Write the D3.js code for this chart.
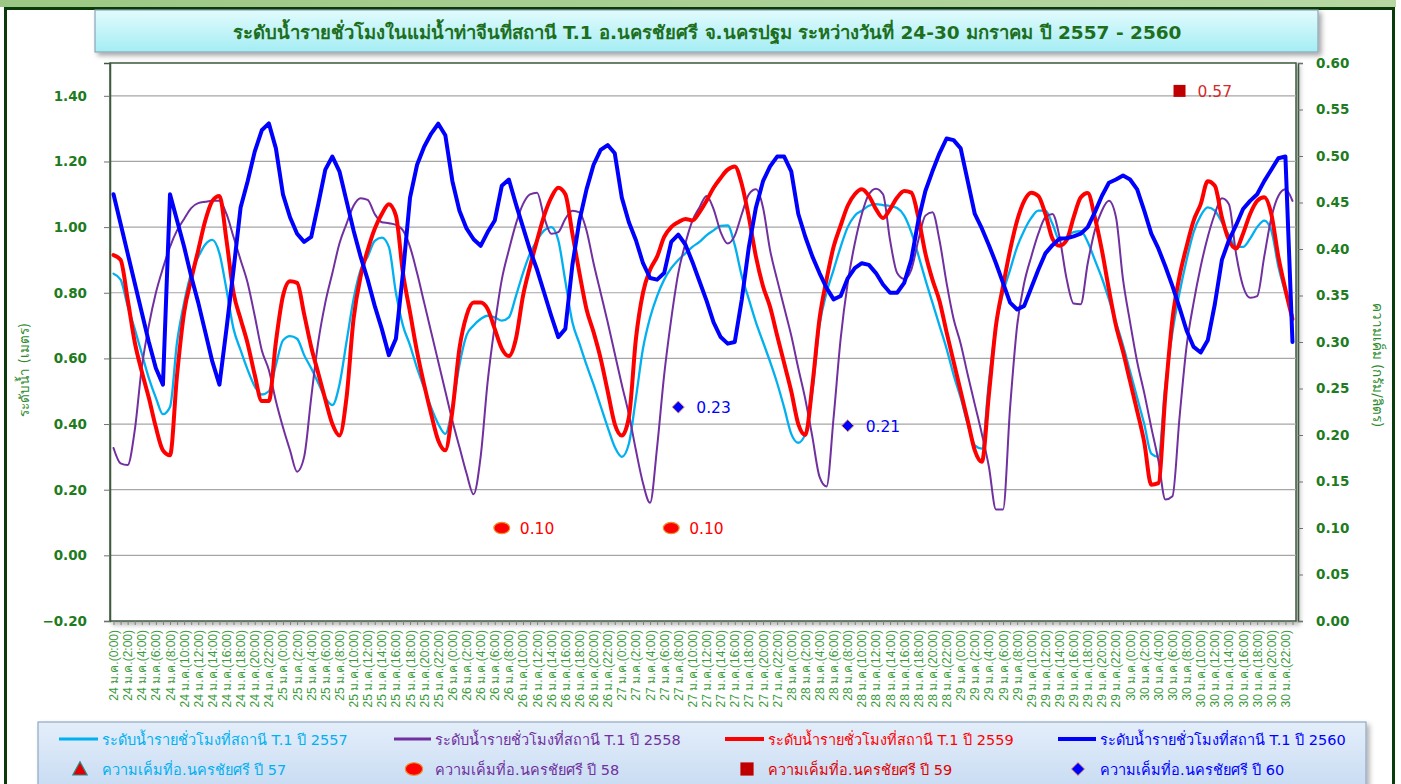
<!DOCTYPE html>
<html><head><meta charset="utf-8">
<script src="https://cdn.jsdelivr.net/npm/d3@7"></script>
<style>
html,body{margin:0;padding:0;background:#fff;overflow:hidden}
svg{display:block;font-family:Tahoma,"DejaVu Sans","Noto Sans",sans-serif}
</style></head>
<body>
<svg id="chart" width="1401" height="784"></svg>
<script>
// ---------- DATA ----------
const days = ["24","25","26","27","28","29","30"];
const hoursOfDay = d3.range(24);
const categories = [];
days.forEach(d => hoursOfDay.forEach(h => categories.push(`${d} ม.ค.(${h}:00)`)));
const labelEvery = 2; // x tick label shown every 2 hours

const titleText = "ระดับน้ำรายชั่วโมงในแม่น้ำท่าจีนที่สถานี T.1 อ.นครชัยศรี จ.นครปฐม ระหว่างวันที่ 24-30 มกราคม ปี 2557 - 2560";
const leftTitle = "ระดับน้ำ (เมตร)";
const rightTitle = "ความเค็ม (กรัม/ลิตร)";
const leftTicks = [-0.2,0,0.2,0.4,0.6,0.8,1.0,1.2,1.4];
const rightTicks = [0,0.05,0.1,0.15,0.2,0.25,0.3,0.35,0.4,0.45,0.5,0.55,0.6];

const level2557 = [
0.858,0.84,0.76,0.69,0.615,0.54,0.48,0.43,0.452,0.65,0.77,0.86,0.909,0.947,0.961,0.92,0.81,0.69,0.625,0.565,0.515,0.49,0.50,0.58,
0.655,0.668,0.66,0.61,0.57,0.525,0.48,0.458,0.52,0.65,0.78,0.87,0.91,0.958,0.968,0.94,0.80,0.70,0.64,0.57,0.51,0.45,0.40,0.37,
0.45,0.58,0.67,0.70,0.72,0.73,0.725,0.715,0.725,0.79,0.86,0.92,0.96,0.99,1.00,0.96,0.835,0.71,0.645,0.58,0.52,0.455,0.39,0.33,
0.30,0.34,0.48,0.63,0.724,0.79,0.84,0.875,0.90,0.92,0.94,0.955,0.975,0.99,1.004,1.005,0.945,0.85,0.78,0.71,0.65,0.59,0.525,0.45,
0.37,0.343,0.37,0.50,0.70,0.80,0.87,0.94,1.00,1.035,1.05,1.065,1.07,1.067,1.064,1.058,1.035,0.985,0.915,0.84,0.77,0.70,0.63,0.55,
0.48,0.40,0.335,0.325,0.53,0.70,0.80,0.87,0.94,0.99,1.028,1.05,1.05,1.01,0.96,0.97,0.985,0.988,0.955,0.90,0.845,0.78,0.71,0.64,
0.56,0.48,0.40,0.31,0.30,0.52,0.68,0.80,0.90,0.985,1.035,1.06,1.05,1.015,0.975,0.94,0.94,0.965,1.00,1.02,0.99,0.88,0.80,0.73];

const level2558 = [
0.327,0.28,0.275,0.38,0.572,0.70,0.80,0.875,0.94,0.99,1.025,1.058,1.073,1.077,1.08,1.08,1.04,0.97,0.90,0.83,0.73,0.625,0.565,0.47,
0.39,0.32,0.255,0.30,0.48,0.65,0.77,0.86,0.95,1.01,1.065,1.088,1.083,1.04,1.015,1.012,1.007,0.99,0.94,0.86,0.77,0.68,0.59,0.50,
0.41,0.33,0.25,0.186,0.30,0.53,0.70,0.84,0.93,1.01,1.07,1.10,1.105,1.03,0.98,0.985,1.025,1.05,1.045,0.99,0.89,0.80,0.71,0.615,
0.52,0.43,0.32,0.22,0.16,0.33,0.55,0.72,0.86,0.95,1.02,1.06,1.095,1.055,0.985,0.95,0.974,1.04,1.10,1.115,1.06,0.93,0.84,0.755,
0.67,0.57,0.475,0.36,0.24,0.21,0.42,0.66,0.83,0.95,1.04,1.10,1.117,1.10,0.96,0.86,0.842,0.87,0.96,1.035,1.045,0.96,0.83,0.72,
0.645,0.55,0.46,0.37,0.27,0.14,0.14,0.45,0.70,0.83,0.91,0.98,1.03,1.04,0.97,0.843,0.767,0.765,0.89,0.99,1.05,1.08,1.03,0.84,
0.71,0.59,0.495,0.39,0.29,0.17,0.18,0.42,0.637,0.77,0.88,0.97,1.04,1.088,1.07,0.92,0.82,0.785,0.79,0.91,1.028,1.095,1.115,1.08];

const level2559 = [
0.915,0.90,0.78,0.65,0.56,0.48,0.39,0.32,0.305,0.55,0.74,0.84,0.93,1.02,1.08,1.095,0.96,0.80,0.72,0.645,0.55,0.47,0.47,0.65,
0.79,0.835,0.83,0.735,0.635,0.555,0.475,0.40,0.365,0.48,0.72,0.85,0.93,0.995,1.04,1.07,1.035,0.86,0.74,0.62,0.52,0.43,0.35,0.32,
0.44,0.63,0.73,0.77,0.77,0.75,0.69,0.63,0.607,0.66,0.79,0.88,0.96,1.035,1.09,1.12,1.10,0.98,0.86,0.75,0.68,0.60,0.50,0.40,
0.365,0.42,0.66,0.80,0.87,0.91,0.97,1.00,1.015,1.025,1.02,1.045,1.08,1.12,1.15,1.175,1.185,1.13,1.03,0.91,0.82,0.757,0.67,0.585,
0.50,0.40,0.367,0.52,0.72,0.84,0.94,1.005,1.065,1.10,1.115,1.095,1.055,1.028,1.055,1.09,1.11,1.105,1.03,0.92,0.84,0.775,0.68,0.59,
0.50,0.41,0.32,0.285,0.49,0.70,0.82,0.93,1.02,1.08,1.105,1.095,1.04,0.965,0.943,0.96,1.03,1.09,1.104,1.03,0.93,0.81,0.70,0.62,
0.53,0.44,0.345,0.215,0.22,0.49,0.72,0.85,0.941,1.02,1.07,1.14,1.126,1.03,0.96,0.935,0.98,1.04,1.08,1.091,1.04,0.91,0.81,0.72];

const level2560 = [
1.10,1.01,0.92,0.83,0.74,0.65,0.57,0.52,1.10,1.02,0.94,0.85,0.77,0.68,0.59,0.52,0.69,0.87,1.06,1.14,1.23,1.295,1.316,1.24,
1.10,1.03,0.98,0.955,0.97,1.07,1.175,1.215,1.17,1.08,0.99,0.91,0.84,0.76,0.69,0.61,0.66,0.86,1.09,1.19,1.245,1.285,1.315,1.28,
1.14,1.05,0.996,0.963,0.943,0.985,1.02,1.126,1.145,1.07,1.00,0.93,0.87,0.80,0.73,0.665,0.69,0.885,1.02,1.115,1.19,1.235,1.25,1.225,
1.09,1.015,0.96,0.89,0.845,0.84,0.86,0.955,0.977,0.947,0.894,0.835,0.776,0.71,0.665,0.645,0.65,0.78,0.94,1.06,1.14,1.185,1.215,1.215,
1.17,1.04,0.97,0.91,0.86,0.815,0.78,0.79,0.844,0.875,0.89,0.885,0.86,0.825,0.80,0.80,0.83,0.90,1.02,1.11,1.17,1.225,1.27,1.265,
1.24,1.14,1.04,0.996,0.945,0.89,0.83,0.77,0.749,0.76,0.815,0.87,0.92,0.945,0.965,0.966,0.972,0.98,1.00,1.045,1.095,1.135,1.145,1.157,
1.145,1.115,1.05,0.98,0.935,0.88,0.82,0.755,0.685,0.635,0.618,0.655,0.765,0.90,0.96,1.005,1.055,1.08,1.10,1.14,1.175,1.21,1.215,0.65];

// salinity (right axis)
const salinity57 = [];
const salinity58 = [["26 ม.ค.(7:00)",0.10],["27 ม.ค.(7:00)",0.10]];
const salinity59 = [["30 ม.ค.(7:00)",0.57]];
const salinity60 = [["27 ม.ค.(8:00)",0.23],["28 ม.ค.(8:00)",0.21]];

const levelSeries = [
  {name:"ระดับน้ำรายชั่วโมงที่สถานี T.1 ปี 2557", values:level2557, color:"#00b0f0", width:2.3, smooth:true},
  {name:"ระดับน้ำรายชั่วโมงที่สถานี T.1  ปี 2558", values:level2558, color:"#7030a0", width:2, smooth:true},
  {name:"ระดับน้ำรายชั่วโมงที่สถานี T.1 ปี 2559", values:level2559, color:"#ff0000", width:4, smooth:true},
  {name:"ระดับน้ำรายชั่วโมงที่สถานี T.1 ปี 2560", values:level2560, color:"#0000ff", width:4, smooth:false}
];
const salSeries = [
  {name:"ความเค็มที่อ.นครชัยศรี ปี 57", values:salinity57, shape:"triangle", fill:"#e00000", stroke:"#2e8b8b", text:"#00b0f0", label:"#ff0000"},
  {name:"ความเค็มที่อ.นครชัยศรี ปี 58", values:salinity58, shape:"circle", fill:"#ff0000", stroke:"#e8902a", text:"#7030a0", label:"#ff0000"},
  {name:"ความเค็มที่อ.นครชัยศรี ปี 59", values:salinity59, shape:"square", fill:"#c00000", stroke:"#c00000", text:"#e00000", label:"#d42a2a"},
  {name:"ความเค็มที่อ.นครชัยศรี ปี 60", values:salinity60, shape:"diamond", fill:"#0000ff", stroke:"#e8a060", text:"#0000ff", label:"#0000ff"}
];

// ---------- LAYOUT ----------
const svg = d3.select("#chart");
const P = {left:110, right:1296, top:63, bottom:621};
const defs = svg.append("defs");
const g1 = defs.append("linearGradient").attr("id","titleGrad").attr("x1",0).attr("y1",0).attr("x2",0).attr("y2",1);
g1.append("stop").attr("offset","0%").attr("stop-color","#e2fbfd");
g1.append("stop").attr("offset","100%").attr("stop-color","#a4edf3");
const g2 = defs.append("linearGradient").attr("id","legGrad").attr("x1",0).attr("y1",0).attr("x2",0).attr("y2",1);
g2.append("stop").attr("offset","0%").attr("stop-color","#e4eefa");
g2.append("stop").attr("offset","100%").attr("stop-color","#c6daf2");
const g3 = defs.append("linearGradient").attr("id","topGrad").attr("x1",0).attr("y1",0).attr("x2",1).attr("y2",0);
g3.append("stop").attr("offset","0%").attr("stop-color","#9cc784");
g3.append("stop").attr("offset","100%").attr("stop-color","#b7d8a3");
const sh = defs.append("filter").attr("id","shadow").attr("x","-5%").attr("y","-20%").attr("width","110%").attr("height","150%");
sh.append("feDropShadow").attr("dx",3).attr("dy",3).attr("stdDeviation",2.5).attr("flood-color","#000").attr("flood-opacity",0.35);
const sh2 = defs.append("filter").attr("id","shadow2").attr("x","-5%").attr("y","-5%").attr("width","110%").attr("height","110%");
sh2.append("feDropShadow").attr("dx",3).attr("dy",3).attr("stdDeviation",2.5).attr("flood-color","#000").attr("flood-opacity",0.3);

// outer frame
svg.append("rect").attr("x",0).attr("y",0).attr("width",1401).attr("height",7).attr("fill","url(#topGrad)");
svg.append("rect").attr("x",1396).attr("y",0).attr("width",5).attr("height",784).attr("fill","#ffffff");
svg.append("path").attr("d","M5.5,790 V8.5 H1393.5 V790").attr("fill","none").attr("stroke","#0b3a0b").attr("stroke-width",3);

// title box
svg.append("rect").attr("x",95).attr("y",10).attr("width",1223).attr("height",42)
  .attr("fill","url(#titleGrad)").attr("stroke","#8aa6b8").attr("stroke-width",1.2).attr("filter","url(#shadow)");
svg.append("text").attr("x",707).attr("y",39).attr("text-anchor","middle")
  .attr("font-size",18.5).attr("font-weight","bold").attr("fill","#1d6e1d").text(titleText);

// scales
const x = d3.scalePoint().domain(categories).range([P.left,P.right]).padding(0.5);
const yL = d3.scaleLinear().domain([-0.2,1.5]).range([P.bottom,P.top]);
const yR = d3.scaleLinear().domain([0,0.6]).range([P.bottom,P.top]);

// plot area
svg.append("rect").attr("x",P.left).attr("y",P.top).attr("width",P.right-P.left).attr("height",P.bottom-P.top)
  .attr("fill","#fff").attr("stroke","#3e5a3e").attr("stroke-width",1.5).attr("filter","url(#shadow2)");

// gridlines
svg.append("g").selectAll("line").data(leftTicks.filter(v=>v>-0.2)).join("line")
  .attr("x1",P.left).attr("x2",P.right).attr("y1",d=>yL(d)).attr("y2",d=>yL(d))
  .attr("stroke","#a6a6a6").attr("stroke-width",1.2);

// left axis
const axL = svg.append("g").attr("transform",`translate(${P.left},0)`)
  .call(d3.axisLeft(yL).tickValues(leftTicks).tickFormat(d3.format(".2f")).tickSize(6).tickPadding(17));
axL.select(".domain").attr("stroke","#3e5a3e").attr("stroke-width",1.5);
axL.selectAll(".tick line").attr("stroke","#707070");
axL.selectAll("text").attr("font-size",13.5).attr("font-family","'DejaVu Sans',sans-serif").attr("font-weight","bold").attr("fill","#1e7b1e");

// right axis
const axR = svg.append("g").attr("transform",`translate(${P.right+2},0)`)
  .call(d3.axisRight(yR).tickValues(rightTicks).tickFormat(d3.format(".2f")).tickSize(5).tickPadding(13));
axR.select(".domain").attr("stroke","#3e5a3e").attr("stroke-width",1.5);
axR.selectAll(".tick line").attr("stroke","#707070");
axR.selectAll("text").attr("font-size",13.5).attr("font-family","'DejaVu Sans',sans-serif").attr("font-weight","bold").attr("fill","#1e7b1e");

// bottom axis (hourly ticks)
const axB = svg.append("g").attr("transform",`translate(0,${P.bottom})`)
  .call(d3.axisBottom(x).tickValues(categories).tickSize(4).tickFormat(""));
axB.select(".domain").remove();
axB.selectAll(".tick line").attr("stroke","#808080");
axB.selectAll(".tick").filter((d,i)=>i%labelEvery===0).append("text")
  .attr("transform","rotate(-90)").attr("x",-9).attr("y",4)
  .attr("text-anchor","end").attr("font-size",12).attr("fill","#3c9a3c").text(d=>d);

// axis titles
svg.append("text").attr("transform","translate(29,370) rotate(-90)").attr("text-anchor","middle")
  .attr("font-size",13.5).attr("fill","#2c8a2c").text(leftTitle);
svg.append("text").attr("transform","translate(1373,365) rotate(90)").attr("text-anchor","middle")
  .attr("font-size",13.5).attr("fill","#2c8a2c").text(rightTitle);

// lines
const mkLine = smooth => d3.line().x((d,i)=>x(categories[i])).y(d=>yL(d))
  .curve(smooth ? d3.curveMonotoneX : d3.curveLinear);
svg.append("g").selectAll("path").data(levelSeries).join("path")
  .attr("d",d=>mkLine(d.smooth)(d.values)).attr("fill","none").attr("stroke",d=>d.color)
  .attr("stroke-width",d=>d.width).attr("stroke-linejoin","round").attr("stroke-linecap","round");

// marker drawing
function marker(sel, shape, fill, stroke, size){
  if(shape==="circle") sel.append("ellipse").attr("rx",size*0.72).attr("ry",size*0.52).attr("fill",fill).attr("stroke",stroke).attr("stroke-width",1.2);
  else if(shape==="square") sel.append("rect").attr("x",-size*0.6).attr("y",-size*0.6).attr("width",size*1.2).attr("height",size*1.2).attr("fill",fill);
  else if(shape==="diamond") sel.append("path").attr("d",`M0,${-size*0.55}L${size*0.55},0L0,${size*0.55}L${-size*0.55},0Z`).attr("fill",fill).attr("stroke",stroke).attr("stroke-width",1);
  else if(shape==="triangle") sel.append("path").attr("d",`M0,${-size*0.6}L${size*0.6},${size*0.5}L${-size*0.6},${size*0.5}Z`).attr("fill",fill).attr("stroke",stroke).attr("stroke-width",1.2);
}
salSeries.forEach(s=>{
  s.values.forEach(([c,v])=>{
    const gm = svg.append("g").attr("transform",`translate(${x(c)},${yR(v)})`);
    marker(gm, s.shape, s.fill, s.stroke, s.shape==="square"?10:11);
    svg.append("text").attr("x",x(c)+18).attr("y",yR(v)+6).attr("font-size",15.5)
      .attr("font-family","'DejaVu Sans',sans-serif").attr("fill",s.label).text(d3.format(".2f")(v));
  });
});

// legend
svg.append("rect").attr("x",38).attr("y",722).attr("width",1328).attr("height",72)
  .attr("fill","url(#legGrad)").attr("stroke","#8fa8c4").attr("stroke-width",1.2).attr("filter","url(#shadow2)");
const legX = [59, 394, 725, 1058];
const legTextX = [102, 435, 768, 1100];
levelSeries.forEach((s,i)=>{
  svg.append("line").attr("x1",legX[i]).attr("x2",legTextX[i]-4).attr("y1",739).attr("y2",739)
    .attr("stroke",s.color).attr("stroke-width",s.width>3?4:3);
  svg.append("text").attr("x",legTextX[i]).attr("y",745).attr("font-size",14.5).attr("font-weight","normal")
    .attr("fill",s.color).text(s.name);
});
const legMX = [80, 414, 747, 1078];
salSeries.forEach((s,i)=>{
  const gm = svg.append("g").attr("transform",`translate(${legMX[i]},769)`);
  marker(gm, s.shape, s.fill, s.stroke, s.shape==="square"?11:12);
  svg.append("text").attr("x",legTextX[i]).attr("y",775).attr("font-size",14.5).attr("font-weight","normal")
    .attr("fill",s.text).text(s.name);
});
</script>
</body></html>
